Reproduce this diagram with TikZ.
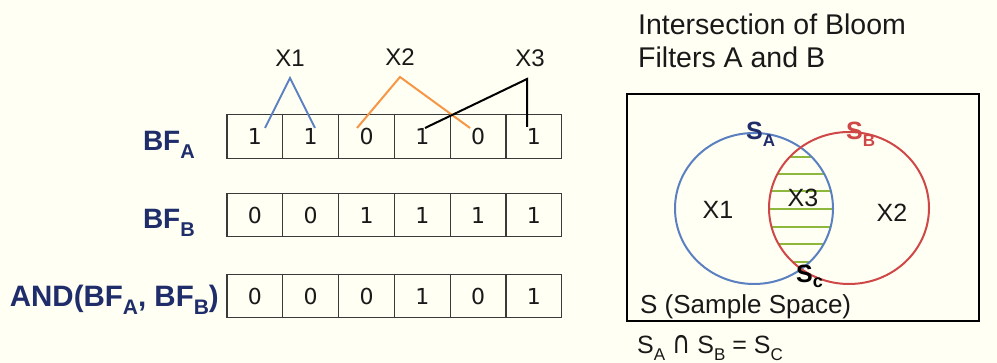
\documentclass[tikz,border=0pt]{standalone}
\usepackage{fontspec}
\setmainfont{Liberation Sans}
\newfontfamily\digfont{DejaVu Sans}
\definecolor{bg}{HTML}{FFFFF3}
\definecolor{navy}{HTML}{1F2D6B}
\definecolor{lblue}{HTML}{5B80C2}
\definecolor{vred}{HTML}{CF4747}
\definecolor{vgreen}{HTML}{8DB83C}
\definecolor{xorange}{HTML}{F79646}
\definecolor{cellgray}{HTML}{3A3A3A}
\newcommand{\mysub}[2]{\raisebox{-0.27em}{\fontsize{#1}{#1}\selectfont #2}}
\tikzset{
  cell/.style={draw=cellgray, line width=1.2pt, minimum width=55.8pt, minimum height=43.5pt,
    inner sep=0pt, font=\digfont\fontsize{22}{22}\selectfont, text=black!90},
  rowlabel/.style={font=\bfseries\fontsize{28}{28}\selectfont, text=navy, inner sep=0pt},
  xlabel/.style={font=\fontsize{24}{24}\selectfont, text=black!90, inner sep=0pt, anchor=base},
  vlabel/.style={font=\fontsize{25}{25}\selectfont, text=black!90, inner sep=0pt},
  hatch/.style={vgreen, line width=2.6pt},
}
\begin{document}
\begin{tikzpicture}[x=1pt,y=-1pt]
\fill[bg] (0,0) rectangle (997,363);
\useasboundingbox (0,0) rectangle (997,363);

% rows of cells
\foreach \v [count=\i] in {1,1,0,1,0,1}
  \node[cell] (a\i) at (227+55.8*\i-27.9,136.5) {\v};
\foreach \v [count=\i] in {0,0,1,1,1,1}
  \node[cell] (b\i) at (227+55.8*\i-27.9,215) {\v};
\foreach \v [count=\i] in {0,0,0,1,0,1}
  \node[cell] (c\i) at (227+55.8*\i-27.9,296) {\v};

% row labels
\node[rowlabel, anchor=base east] (la) at (195,151) {BF\mysub{20}{A}};
\node[rowlabel, anchor=base east] (lb) at (195,229) {BF\mysub{20}{B}};
\node[rowlabel, anchor=base east, font=\bfseries\fontsize{29.5}{29.5}\selectfont] (lc) at (219,307) {AND(BF\mysub{21}{A}, BF\mysub{21}{B})};

% hash labels
\node[xlabel] (x1) at (290,67) {X1};
\node[xlabel] (x2) at (400,66) {X2};
\node[xlabel] (x3) at (530,67) {X3};
\coordinate (p1) at (290,78);
\coordinate (p2) at (400,77);
\coordinate (p3) at (527,79);
\coordinate (e1a) at (265,128);
\coordinate (e1b) at (315,128);
\coordinate (e2a) at (357,128);
\coordinate (e2b) at (470,128);
\coordinate (e3a) at (425,128);
\coordinate (e3b) at (527,127);
\draw[lblue, line width=2pt] (e1a) -- (p1) -- (e1b);
\draw[xorange, line width=2pt] (e2a) -- (p2) -- (e2b);
\draw[black, line width=2pt] (e3a) -- (p3) -- (e3b);

% title
\node[anchor=base west, inner sep=0pt, font=\fontsize{28.5}{28.5}\selectfont, text=black!90] (t1) at (638,35) {Intersection of Bloom};
\node[anchor=base west, inner sep=0pt, font=\fontsize{28.5}{28.5}\selectfont, text=black!90] (t2) at (638,68) {Filters A and B};

% sample space
\draw[black, line width=2.4pt] (627,94) rectangle (979,321);
\begin{scope}
  \clip (754,208.5) ellipse [x radius=79, y radius=75.5];
  \clip (849,208) ellipse [x radius=80, y radius=76];
  \foreach \yy in {157,174,191,209,227,244,262}
    \draw[hatch] (740,\yy) -- (860,\yy);
\end{scope}
\draw[lblue, line width=2pt] (754,208.5) ellipse [x radius=79, y radius=75.5];
\draw[vred, line width=2pt] (849,208) ellipse [x radius=80, y radius=76];

\node[anchor=base west, inner sep=0pt, font=\bfseries\fontsize{25}{25}\selectfont, text=navy] (sa) at (746,140) {S\mysub{17}{A}};
\node[anchor=base west, inner sep=0pt, font=\bfseries\fontsize{25}{25}\selectfont, text=vred] (sb) at (846,140) {S\mysub{17}{B}};
\node[anchor=base west, inner sep=0pt, font=\bfseries\fontsize{25}{25}\selectfont, text=black] (sc) at (796,283) {S\raisebox{-0.2em}{\fontsize{18}{18}\selectfont c}};
\node[vlabel] (v1) at (718,210) {X1};
\node[vlabel] (v3) at (803,198) {X3};
\node[vlabel] (v2) at (892,213) {X2};
\node[anchor=base west, inner sep=0pt, font=\fontsize{26}{26}\selectfont, text=black!90] (ss) at (640,314) {S (Sample Space)};
\node[anchor=base west, inner sep=0pt, font=\fontsize{25}{25}\selectfont, text=black!90] (eq) at (637,354) {S\mysub{17}{A} \raisebox{0pt}{\scalebox{1.0}[1.25]{\digfont ∩}} S\mysub{17}{B} = S\mysub{17}{C}};
\end{tikzpicture}
\end{document}
